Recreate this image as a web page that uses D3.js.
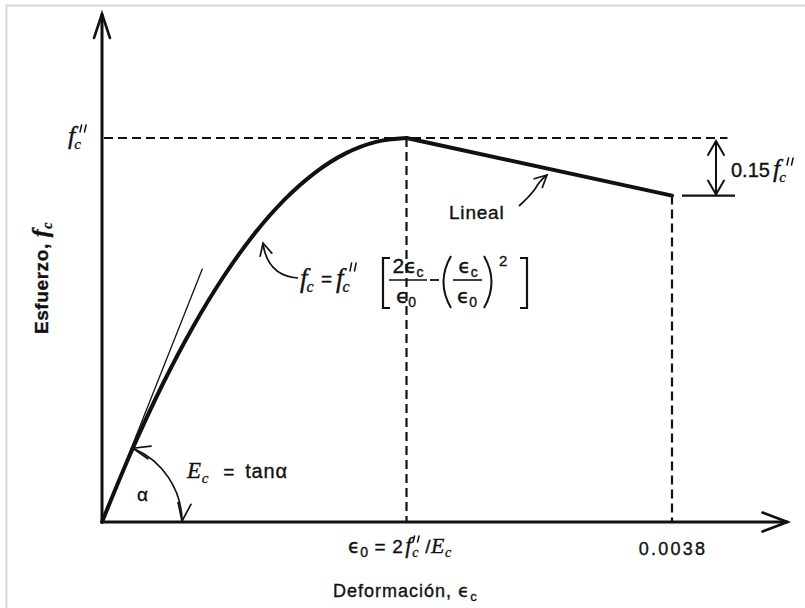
<!DOCTYPE html>
<html>
<head>
<meta charset="utf-8">
<script src="https://cdn.jsdelivr.net/npm/d3@7"></script>
<style>
  html, body { margin: 0; padding: 0; background: #fff; }
  svg { display: block; }
  .sans { font-family: "Liberation Sans", Arial, sans-serif; fill: #111; stroke: #111; stroke-width: 0.35; }
  .it { font-family: "Liberation Serif", "Times New Roman", serif; font-style: italic; }
  .eps { font-family: "DejaVu Sans", sans-serif; font-style: normal; }
</style>
</head>
<body>
<script>
// Hognestad stress–strain curve for concrete (stress as a fraction of f''c)
const EPS0 = 0.00203;          // strain at peak stress, ε0
const EPS_U = 0.0038;          // ultimate strain
const DROP = 0.15;             // linear drop of stress from ε0 to εu, as fraction of f''c

// points along the rising branch: strain / ε0 and stress / f''c
const riseStrainRatio = [0, 0.1, 0.2, 0.3, 0.4, 0.5, 0.6, 0.7, 0.8, 0.9, 1.0];
const riseStress      = [0, 0.19, 0.36, 0.51, 0.64, 0.75, 0.84, 0.91, 0.96, 0.99, 1.0];

// descending straight branch
const fallStrain = [EPS0, EPS_U];
const fallStress = [1.0, 1.0 - DROP];

// initial tangent (slope E_c = 2 f''c / ε0), drawn up to this stress
const tangentStress = [0, 0.66];

// axis extents and the end of the f''c guide
const X_MAX = 0.00457;
const Y_MAX = 1.323;
const GUIDE_END = 0.00417;

const W = 805, H = 608;
const svg = d3.select("body").append("svg").attr("width", W).attr("height", H);

const x = d3.scaleLinear().domain([0, EPS_U]).range([102, 672]);
const y = d3.scaleLinear().domain([0, 1]).range([522, 138]);

// light frame
svg.append("path").attr("d", "M6.5,608 V5.5 H805")
  .attr("fill", "none").attr("stroke", "#d6d6d6").attr("stroke-width", 2);

const ink = "#111";

// open arrowhead drawn at tip (tx,ty) pointing along angle a (radians), length L, half width w
function arrowHead(g, tx, ty, a, L, w, sw) {
  const bx = tx - L * Math.cos(a), by = ty - L * Math.sin(a);
  const nx = -Math.sin(a) * w, ny = Math.cos(a) * w;
  g.append("path")
    .attr("d", `M${bx + nx},${by + ny} L${tx},${ty} L${bx - nx},${by - ny}`)
    .attr("fill", "none").attr("stroke", ink).attr("stroke-width", sw)
    .attr("stroke-linejoin", "miter").attr("stroke-linecap", "round");
}

// double prime strokes (for f''c) with top-left at (px,py)
function primes(g, px, py, h) {
  [0, 4.5].forEach(o => {
    g.append("line").attr("x1", px + o + 1.6).attr("y1", py).attr("x2", px + o).attr("y2", py + h)
      .attr("stroke", ink).attr("stroke-width", 1.5).attr("stroke-linecap", "round");
  });
}

const g = svg.append("g");

// axes
g.append("line").attr("x1", x(0)).attr("y1", y(0)).attr("x2", x(0)).attr("y2", y(Y_MAX))
  .attr("stroke", ink).attr("stroke-width", 3);
g.append("line").attr("x1", x(0)).attr("y1", y(0)).attr("x2", x(X_MAX)).attr("y2", y(0))
  .attr("stroke", ink).attr("stroke-width", 3);
arrowHead(g, x(0), y(Y_MAX), -Math.PI / 2, 24, 8, 2.6);
arrowHead(g, x(X_MAX), y(0), 0, 25, 9.5, 2.6);

// dashed guides
function dashed(x1, y1, x2, y2) {
  g.append("line").attr("x1", x1).attr("y1", y1).attr("x2", x2).attr("y2", y2)
    .attr("stroke", ink).attr("stroke-width", 2.2).attr("stroke-dasharray", "9,5");
}
dashed(x(0) + 2, y(1), x(GUIDE_END), y(1));
dashed(x(EPS0), y(1), x(EPS0), y(0));
dashed(x(EPS_U), y(1 - DROP), x(EPS_U), y(0));

// reference line at the end stress
g.append("line").attr("x1", x(EPS_U) + 10).attr("x2", x(EPS_U) + 63)
  .attr("y1", y(1 - DROP)).attr("y2", y(1 - DROP))
  .attr("stroke", ink).attr("stroke-width", 2.2);

// double arrow for the 0.15 f''c drop
const dx = x(EPS_U) + 44;
g.append("line").attr("x1", dx).attr("x2", dx).attr("y1", y(1) + 3).attr("y2", y(1 - DROP) - 1)
  .attr("stroke", ink).attr("stroke-width", 2);
arrowHead(g, dx, y(1) + 3, -Math.PI / 2, 14, 8, 2);
arrowHead(g, dx, y(1 - DROP) - 1, Math.PI / 2, 14, 8, 2);

// tangent line at origin
const tanStrain = tangentStress.map(s => s * EPS0 / 2);
g.append("line")
  .attr("x1", x(tanStrain[0])).attr("y1", y(tangentStress[0]))
  .attr("x2", x(tanStrain[1])).attr("y2", y(tangentStress[1]))
  .attr("stroke", ink).attr("stroke-width", 1.3);

// main curve
const risePts = riseStrainRatio.map((r, i) => [r * EPS0, riseStress[i]]);
g.append("path").datum(risePts)
  .attr("d", d3.line().x(d => x(d[0])).y(d => y(d[1])).curve(d3.curveMonotoneX))
  .attr("fill", "none").attr("stroke", ink).attr("stroke-width", 4).attr("stroke-linecap", "round");
const fallPts = fallStrain.map((e, i) => [e, fallStress[i]]);
g.append("path").datum(fallPts)
  .attr("d", d3.line().x(d => x(d[0])).y(d => y(d[1])))
  .attr("fill", "none").attr("stroke", ink).attr("stroke-width", 4).attr("stroke-linecap", "round");

// angle arc for α
const ox = x(0), oy = y(0), R = 80;
const slopePx = (y(0) - y(tangentStress[1])) / (x(tanStrain[1]) - x(0));
const alpha = Math.atan(slopePx);
const arcPath = d3.path();
arcPath.arc(ox, oy, R, -alpha + 0.02, -0.01, false);
g.append("path").attr("d", arcPath.toString())
  .attr("fill", "none").attr("stroke", ink).attr("stroke-width", 1.7);
{
  const a1 = -alpha + 0.02;
  const tx = ox + R * Math.cos(a1), ty = oy + R * Math.sin(a1);
  arrowHead(g, tx, ty, a1 - Math.PI / 2 - 0.15, 17, 6.5, 1.7);
  const a2 = -0.01;
  const bx = ox + R * Math.cos(a2), by = oy + R * Math.sin(a2);
  arrowHead(g, bx, by, a2 + Math.PI / 2 + 0.15, 18, 6.5, 1.7);
}

// pointer from the formula to the curve
g.append("path").attr("d", "M298,278 Q268,276 263,244")
  .attr("fill", "none").attr("stroke", ink).attr("stroke-width", 1.7);
arrowHead(g, 263, 243, -Math.PI / 2 - 0.25, 12, 6, 1.7);

// pointer from "Lineal" to the descending branch
g.append("path").attr("d", "M519,206 Q530,196 535,189 Q540,180 547,175")
  .attr("fill", "none").attr("stroke", ink).attr("stroke-width", 1.7);
arrowHead(g, 547, 175, -0.75, 12, 6, 1.7);

// ---- text ----
// rich text helper: parts = [{t, cls, size, shift, dx}] where shift moves baseline down (px)
function rich(parent, px, py, parts, opts = {}) {
  const t = parent.append("text").attr("x", px).attr("y", py)
    .attr("class", "sans").attr("font-size", opts.size || 18)
    .attr("text-anchor", opts.anchor || "start");
  if (opts.weight) t.attr("font-weight", opts.weight);
  if (opts.spacing) t.attr("letter-spacing", opts.spacing);
  if (opts.transform) t.attr("transform", opts.transform);
  let cur = 0;
  parts.forEach(p => {
    const s = p.shift || 0;
    const ts = t.append("tspan").attr("dy", s - cur).text(p.t);
    if (p.cls) ts.attr("class", p.cls);
    if (p.size) ts.attr("font-size", p.size);
    if (p.dx) ts.attr("dx", p.dx);
    cur = s;
  });
  return t;
}

// y-axis tick label f''c
rich(svg, 68, 144, [
  { t: "f", cls: "it", size: 26 },
  { t: "c", cls: "it", size: 15, shift: 5, dx: -1 }
]);
primes(svg, 80, 125, 7);

// x-axis labels
rich(svg, 348, 553, [
  { t: "ϵ", cls: "eps", size: 19 },
  { t: "0", size: 14, shift: 4 },
  { t: " = 2", size: 19 },
  { t: "f", cls: "it", size: 23, dx: 2 },
  { t: "c", cls: "it", size: 14, shift: 4, dx: 0 },
  { t: "/", size: 19, dx: 6 },
  { t: "E", cls: "it", size: 22 },
  { t: "c", cls: "it", size: 14, shift: 4 }
], { spacing: 0.6 });
primes(svg, 413, 536, 6);

rich(svg, 673, 555, [{ t: "0.0038" }], { anchor: "middle", size: 18, spacing: 2.2 });

rich(svg, 333, 597, [
  { t: "Deformación, " },
  { t: "ϵ", cls: "eps", size: 18 },
  { t: "c", size: 13, shift: 4 }
], { size: 18, spacing: 1.0 });

// y-axis title
rich(svg, 0, 0, [
  { t: "Esfuerzo, " },
  { t: "f", cls: "it", size: 24 },
  { t: "c", cls: "it", size: 14, shift: 4 }
], { size: 19, weight: "bold", anchor: "middle", spacing: 0.6, transform: "translate(48,278) rotate(-90)" });

// drop annotation
rich(svg, 731, 177, [
  { t: "0.15", size: 20 },
  { t: "f", cls: "it", size: 26, dx: 3 },
  { t: "c", cls: "it", size: 15, shift: 5, dx: -1 }
], { size: 20 });
primes(svg, 787, 158, 7);

// "Lineal"
rich(svg, 449, 219, [{ t: "Lineal" }], { size: 19, spacing: 0.8 });

// E_c = tan α
rich(svg, 187, 478, [
  { t: "E", cls: "it", size: 23 },
  { t: "c", cls: "it", size: 15, shift: 5 },
  { t: "=", size: 19, dx: 14 },
  { t: "tanα", size: 20, dx: 10 }
], { size: 19, spacing: 0.8 });
rich(svg, 137, 501, [{ t: "α", size: 19 }]);

// formula f_c = f''c [ 2ϵc/ϵ0 − (ϵc/ϵ0)^2 ]
const fg = svg.append("g");
rich(fg, 300, 287, [
  { t: "f", cls: "it", size: 27 },
  { t: "c", cls: "it", size: 16, shift: 5, dx: -1 }
]);
rich(fg, 321, 285, [{ t: "=" }], { size: 19 });
rich(fg, 336, 287, [
  { t: "f", cls: "it", size: 27 },
  { t: "c", cls: "it", size: 16, shift: 5, dx: -1 }
]);
primes(fg, 350, 263, 8);
// brackets
fg.append("path").attr("d", "M390,258 H383 V308 H390").attr("fill", "none").attr("stroke", ink).attr("stroke-width", 2.2);
fg.append("path").attr("d", "M520,258 H527 V308 H520").attr("fill", "none").attr("stroke", ink).attr("stroke-width", 2.2);
// first fraction
rich(fg, 408, 273, [
  { t: "2", size: 21 },
  { t: "ϵ", cls: "eps", size: 20 },
  { t: "c", size: 14, shift: 4 }
], { anchor: "middle" });
fg.append("line").attr("x1", 389).attr("x2", 427).attr("y1", 280).attr("y2", 280).attr("stroke", ink).attr("stroke-width", 1.6);
rich(fg, 406, 303, [
  { t: "ϵ", cls: "eps", size: 20 },
  { t: "0", size: 14, shift: 4 }
], { anchor: "middle" });
// minus
fg.append("line").attr("x1", 430).attr("x2", 439).attr("y1", 280).attr("y2", 280).attr("stroke", ink).attr("stroke-width", 1.8);
// parentheses
fg.append("path").attr("d", "M451,256 Q436,282 451,308").attr("fill", "none").attr("stroke", ink).attr("stroke-width", 2);
fg.append("path").attr("d", "M484,256 Q499,282 484,308").attr("fill", "none").attr("stroke", ink).attr("stroke-width", 2);
rich(fg, 468, 273, [
  { t: "ϵ", cls: "eps", size: 20 },
  { t: "c", size: 14, shift: 4 }
], { anchor: "middle" });
fg.append("line").attr("x1", 453).attr("x2", 482).attr("y1", 280).attr("y2", 280).attr("stroke", ink).attr("stroke-width", 1.6);
rich(fg, 467, 303, [
  { t: "ϵ", cls: "eps", size: 20 },
  { t: "0", size: 14, shift: 4 }
], { anchor: "middle" });
rich(fg, 499, 266, [{ t: "2", size: 15 }]);
</script>
</body>
</html>
